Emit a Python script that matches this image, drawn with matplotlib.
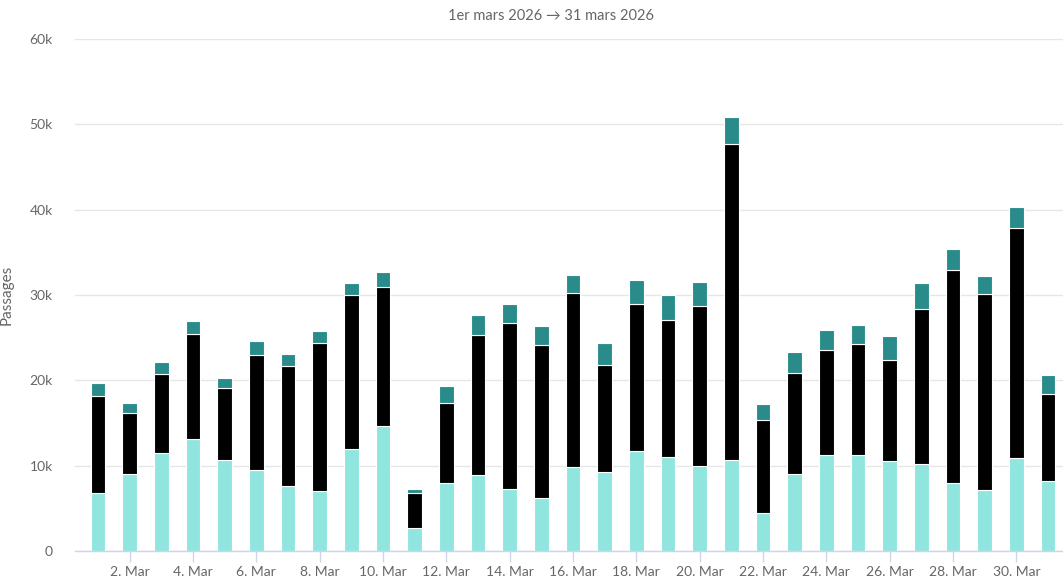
import numpy as np
import matplotlib
matplotlib.use("Agg")
import matplotlib.pyplot as plt
from matplotlib.ticker import FuncFormatter

# ---------------------------------------------------------------------------
# Data (cumulative heights, in passages)
# ---------------------------------------------------------------------------
days = list(range(1, 32))
cyan_top = [6800, 9000, 11500, 13100, 10700, 9500, 7600, 7000, 11900, 14600,
            2700, 8000, 8900, 7300, 6200, 9900, 9200, 11700, 11000, 10000,
            10700, 4500, 9000, 11300, 11300, 10600, 10200, 8000, 7200, 10900, 8200]
black_top = [18200, 16200, 20700, 25400, 19100, 23000, 21700, 24400, 30000, 30900,
             6800, 17400, 25300, 26700, 24100, 30200, 21800, 29000, 27100, 28700,
             47700, 15400, 20900, 23500, 24200, 22400, 28400, 32900, 30100, 37800, 18400]
total = [19650, 17300, 22200, 27000, 20300, 24600, 23100, 25800, 31400, 32700,
         7250, 19300, 27700, 29000, 26400, 32400, 24400, 31700, 30000, 31500,
         50900, 17200, 23300, 25900, 26500, 25200, 31400, 35400, 32200, 40300, 20600]

tick_days = list(range(2, 31, 2))
tick_labels = [f"{d}. Mar" for d in tick_days]

# segment sizes
s_low = np.array(cyan_top)
s_mid = np.array(black_top) - s_low
s_high = np.array(total) - np.array(black_top)

plt.rcParams['font.family'] = ['Lato', 'DejaVu Sans']

W, H = 1063, 578
fig = plt.figure(figsize=(W / 100, H / 100), dpi=100)
ax = fig.add_axes([75 / W, 1 - 551 / H, 1 - 75 / W, (551 - 39) / H])

bw = 0.47
edge = dict(edgecolor='white', linewidth=0.8)
ax.bar(days, s_low, width=bw, color='#90e6df', **edge, zorder=3)
ax.bar(days, s_mid, width=bw, bottom=s_low, color='#000000', **edge, zorder=3)
ax.bar(days, s_high, width=bw, bottom=s_low + s_mid, color='#2a8c8a', **edge, zorder=3)

px_day = (1048 - 98) / 30
x0 = 1 - (98 - 75) / px_day
ax.set_xlim(x0, x0 + (W - 75) / px_day)
ax.set_ylim(0, 60000)

ax.set_yticks(np.arange(0, 60001, 10000))
ax.yaxis.set_major_formatter(FuncFormatter(lambda v, p: "0" if v == 0 else f"{int(v / 1000)}k"))
ax.set_xticks(tick_days)
ax.set_xticklabels(tick_labels)

ax.grid(axis='y', color='#e6e6e6', linewidth=1, zorder=0)
for s in ['top', 'right', 'left']:
    ax.spines[s].set_visible(False)
ax.spines['bottom'].set_color('#ccd6eb')
ax.spines['bottom'].set_linewidth(1)
ax.spines['bottom'].set_zorder(4)

ax.tick_params(axis='y', length=0, pad=16, labelsize=10, labelcolor='#666666')
ax.tick_params(axis='x', length=8, width=1, color='#ccd6eb', pad=3,
               labelsize=10, labelcolor='#666666')

ax.set_ylabel('Passages', color='#666666', fontsize=11)
ax.yaxis.set_label_coords(-(75 - 14) / (W - 75), 0.5)

fig.text(551 / W, 1 - 16 / H, "1er mars 2026 \u2192 31 mars 2026",
         ha='center', va='center', fontsize=10.5, color='#666666')

fig.savefig('out.png', dpi=100)
